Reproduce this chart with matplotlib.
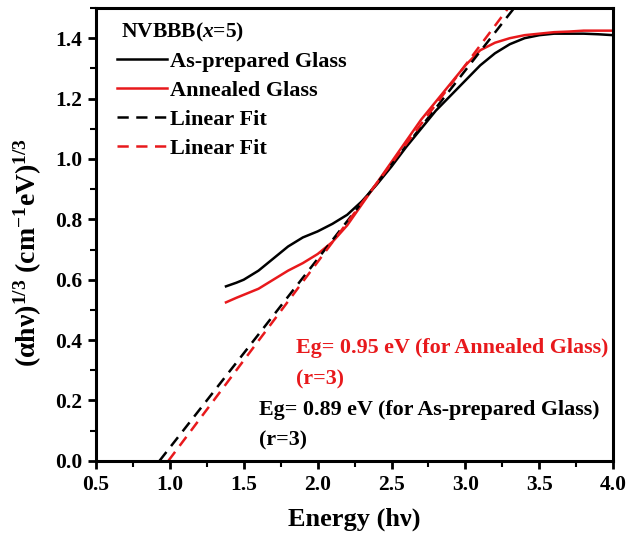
import numpy as np
import matplotlib.pyplot as plt
from matplotlib.ticker import MultipleLocator

plt.rcParams['font.family'] = ['Liberation Serif', 'DejaVu Serif']
plt.rcParams['font.weight'] = 'bold'
plt.rcParams['mathtext.fontset'] = 'custom'
plt.rcParams['mathtext.rm'] = 'Liberation Serif:bold'
plt.rcParams['mathtext.it'] = 'Liberation Serif:italic:bold'
plt.rcParams['mathtext.bf'] = 'Liberation Serif:bold'

# 数据
energy_black = [1.38, 1.45, 1.5, 1.6, 1.7, 1.8, 1.9, 2.0, 2.1, 2.2, 2.3, 2.4, 2.5, 2.6,
                2.7, 2.8, 2.9, 3.0, 3.1, 3.2, 3.3, 3.4, 3.5, 3.6, 3.7, 3.8, 3.9, 4.0]
alpha_black = [0.578, 0.59, 0.60, 0.63, 0.67, 0.71, 0.74, 0.76, 0.785, 0.815, 0.86, 0.915,
               0.975, 1.04, 1.10, 1.16, 1.21, 1.26, 1.31, 1.35, 1.38, 1.40, 1.41, 1.415,
               1.415, 1.415, 1.413, 1.41]

energy_red = [1.38, 1.45, 1.5, 1.6, 1.7, 1.8, 1.9, 2.0, 2.1, 2.2, 2.3, 2.4, 2.5, 2.6,
              2.7, 2.8, 2.9, 3.0, 3.1, 3.2, 3.3, 3.4, 3.5, 3.6, 3.7, 3.8, 3.9, 4.0]
alpha_red = [0.525, 0.54, 0.55, 0.57, 0.60, 0.63, 0.655, 0.685, 0.725, 0.78, 0.85, 0.92,
             0.99, 1.06, 1.13, 1.19, 1.25, 1.31, 1.36, 1.385, 1.40, 1.41, 1.415, 1.42,
             1.422, 1.425, 1.425, 1.425]

fit_black_x = [0.93, 3.33]
fit_black_y = [0.0, 1.5]
fit_red_x = [0.99, 3.29]
fit_red_y = [0.0, 1.5]

fig = plt.figure(figsize=(6.27, 5.34), dpi=100)
ax = fig.add_axes([0.153, 0.137, 0.825, 0.848])

ax.plot(energy_black, alpha_black, color='black', lw=1.8, label='As-prepared Glass')
ax.plot(energy_red, alpha_red, color='#e8191c', lw=1.8, label='Annealed Glass')
ax.plot(fit_black_x, fit_black_y, color='black', lw=1.8, ls=(0, (4.5, 3)), label='Linear Fit')
ax.plot(fit_red_x, fit_red_y, color='#e8191c', lw=1.8, ls=(0, (4.5, 3)), label='Linear Fit')

ax.set_xlim(0.5, 4.0)
ax.set_ylim(0.0, 1.5)
ax.xaxis.set_major_locator(MultipleLocator(0.5))
ax.xaxis.set_minor_locator(MultipleLocator(0.25))
ax.yaxis.set_major_locator(MultipleLocator(0.2))
ax.yaxis.set_minor_locator(MultipleLocator(0.1))
ax.tick_params(which='major', direction='out', length=6, width=2, labelsize=15.5, pad=4)
ax.tick_params(which='minor', direction='out', length=4, width=1.5)
for sp in ax.spines.values():
    sp.set_linewidth(2.2)

ax.set_xlabel('Energy (hν)', fontsize=19, fontweight='bold', labelpad=9)
ax.set_ylabel(r'$\mathrm{(\alpha h\nu)^{1/3}\ (cm^{-1}eV)^{1/3}}$', fontsize=20)
ax.yaxis.set_label_coords(-0.1, 0.46)

# 图例标题单独画
ax.text(0.048, 0.945, r'NVBBB($\mathit{x}$=5)', transform=ax.transAxes, fontsize=15.5,
        fontweight='bold', va='center', ha='left')
leg = ax.legend(loc='upper left', bbox_to_anchor=(0.041, 0.905), frameon=False,
                fontsize=16, handlelength=2.25, handletextpad=0.15, labelspacing=0.38,
                borderaxespad=0.0, borderpad=0.0)
for t in leg.get_texts():
    t.set_fontweight('bold')

ax.text(1.855, 0.374, 'Eg= 0.95 eV (for Annealed Glass)', color='#e8191c', fontsize=15.8,
        fontweight='bold', va='center')
ax.text(1.855, 0.27, '(r=3)', color='#e8191c', fontsize=15.8, fontweight='bold', va='center')
ax.text(1.60, 0.17, 'Eg= 0.89 eV (for As-prepared Glass)', color='black', fontsize=15.8,
        fontweight='bold', va='center')
ax.text(1.60, 0.066, '(r=3)', color='black', fontsize=15.8, fontweight='bold', va='center')

fig.savefig('out.png', dpi=100)
